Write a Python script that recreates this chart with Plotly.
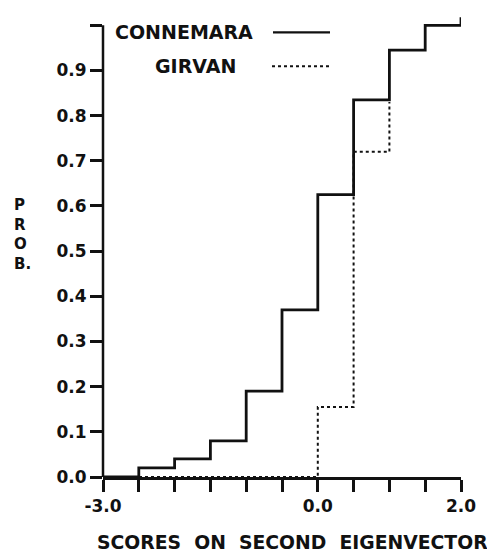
import plotly.graph_objects as go

conn_x = [-3.0, -2.5, -2.0, -1.5, -1.0, -0.5, 0.0, 0.5, 1.0, 1.5, 2.0]
conn_y = [0.0, 0.02, 0.04, 0.08, 0.19, 0.37, 0.625, 0.835, 0.945, 1.0, 1.018]

girv_x = [-3.0, 0.0, 0.5, 1.0]
girv_y = [0.0, 0.155, 0.72, 0.83]

x_tickvals = [-3.0, -2.5, -2.0, -1.5, -1.0, -0.5, 0.0, 0.5, 1.0, 1.5, 2.0]
x_ticktext = ["-3.0", "", "", "", "", "", "0.0", "", "", "", "2.0"]
y_tickvals = [0.0, 0.1, 0.2, 0.3, 0.4, 0.5, 0.6, 0.7, 0.8, 0.9, 1.0]
y_ticktext = ["0.0", "0.1", "0.2", "0.3", "0.4", "0.5", "0.6", "0.7", "0.8", "0.9", ""]
y_axis_top = 1.0
y_range_top = 1.025

INK = "#111111"
FONT = "DejaVu Sans"

fig = go.Figure()
fig.add_trace(go.Scatter(x=conn_x, y=conn_y, mode="lines", line_shape="hv",
                         line=dict(color=INK, width=2.8), name="CONNEMARA",
                         showlegend=False))
fig.add_trace(go.Scatter(x=girv_x, y=girv_y, mode="lines", line_shape="hv",
                         line=dict(color=INK, width=2, dash="dot"), name="GIRVAN",
                         showlegend=False))

OFF = 8  # page body margin offset
W, H = 495 - OFF, 554 - OFF
SCALE_Y = 452.0           # screen pixels per unit of probability
Y0_SCREEN = 477
TOP_SCREEN = Y0_SCREEN - SCALE_Y * y_range_top
L = 103 - OFF
R = W - (461 - OFF)
T = TOP_SCREEN - OFF
B = H - (Y0_SCREEN - OFF)
pw, ph = W - L - R, H - T - B

def px(xs):
    return (xs - OFF - L) / pw

def py(ys):
    return (H - B - (ys - OFF)) / ph

tf = dict(family=FONT, size=17, color=INK, weight="bold")

fig.update_layout(
    width=W, height=H,
    margin=dict(l=L, r=R, t=T, b=B, autoexpand=False),
    paper_bgcolor="white", plot_bgcolor="white",
    font=dict(family=FONT, color=INK, size=17, weight="bold"),
    xaxis=dict(range=[-3.0, 2.0], tickvals=x_tickvals, ticktext=x_ticktext,
               showline=True, linecolor=INK, linewidth=2.5,
               ticks="outside", ticklen=12, tickwidth=2.5, tickcolor=INK,
               showgrid=False, zeroline=False, tickfont=tf),
    yaxis=dict(range=[0.0, y_range_top], tickvals=y_tickvals, ticktext=y_ticktext,
               showline=False,
               ticks="outside", ticklen=12, tickwidth=2.5, tickcolor=INK,
               showgrid=False, zeroline=False, tickfont=tf),
)

# y-axis line ending at 1.0, as in the reference
fig.add_shape(type="line", xref="paper", yref="y", x0=0, x1=0, y0=0, y1=y_axis_top,
              line=dict(color=INK, width=2.5))

lf = dict(family=FONT, size=19, color=INK, weight="bold")
# Legend (text to the left of the line sample, as in the reference)
fig.add_annotation(text="CONNEMARA", xref="paper", yref="paper",
                   x=px(184), y=py(32), xanchor="center", yanchor="middle",
                   showarrow=False, font=lf)
fig.add_annotation(text="GIRVAN", xref="paper", yref="paper",
                   x=px(195), y=py(66), xanchor="center", yanchor="middle",
                   showarrow=False, font=lf)
fig.add_shape(type="line", xref="paper", yref="paper",
              x0=px(273), x1=px(330), y0=py(32), y1=py(32),
              line=dict(color=INK, width=2.2))
fig.add_shape(type="line", xref="paper", yref="paper",
              x0=px(272), x1=px(332), y0=py(66), y1=py(66),
              line=dict(color=INK, width=2, dash="dot"))

# Axis titles
fig.add_annotation(text="SCORES  ON  SECOND  EIGENVECTOR", xref="paper", yref="paper",
                   x=px(292), y=py(543), xanchor="center", yanchor="middle",
                   showarrow=False, font=dict(family=FONT, size=18.8, color=INK, weight="bold"))
fig.add_annotation(text="P<br>R<br>O<br>B.", xref="paper", yref="paper",
                   x=px(12), y=py(234), xanchor="left", yanchor="middle", align="left",
                   showarrow=False, font=dict(family=FONT, size=15, color=INK, weight="bold"))

fig.write_html("out.html")
